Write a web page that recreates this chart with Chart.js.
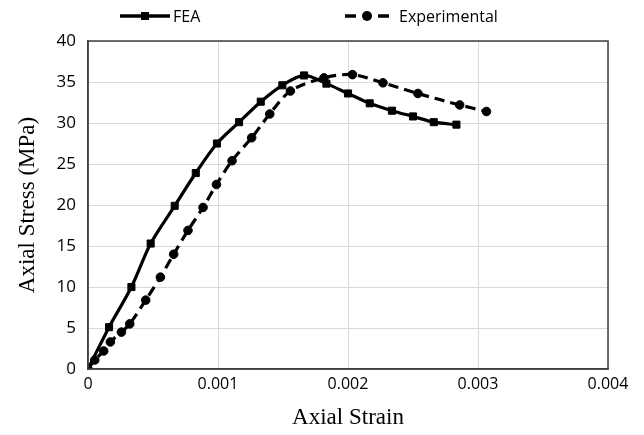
<!DOCTYPE html>
<html>
<head>
<meta charset="utf-8">
<script src="https://cdn.jsdelivr.net/npm/chart.js@4"></script>
<style>
    html, body { margin: 0; padding: 0; background: #fff; }
    #wrap { width: 644px; height: 435px; }
</style>
</head>
<body>
<div id="wrap"><canvas id="stressChart" width="644" height="435"></canvas></div>
<script>
// values
const feaStrain = [0, 0.000162, 0.000334, 0.000482, 0.000667, 0.000829, 0.000992, 0.001162, 0.001329, 0.001495, 0.001662, 0.001834, 0.002, 0.002167, 0.002338, 0.0025, 0.00266, 0.002834];
const feaStress = [0, 5.1, 10.0, 15.3, 19.9, 23.9, 27.5, 30.1, 32.6, 34.6, 35.8, 34.8, 33.6, 32.4, 31.5, 30.8, 30.1, 29.8];

const expStrain = [0, 0.000052, 0.000121, 0.000172, 0.000257, 0.000321, 0.000444, 0.000557, 0.000659, 0.000769, 0.000885, 0.000988, 0.001108, 0.001259, 0.001398, 0.001557, 0.001815, 0.002034, 0.002269, 0.002538, 0.002859, 0.003065];
const expStress = [0, 1.1, 2.2, 3.3, 4.5, 5.5, 8.4, 11.2, 14.0, 16.9, 19.7, 22.5, 25.4, 28.2, 31.1, 33.9, 35.5, 35.9, 34.9, 33.6, 32.2, 31.4];

const xTicks = [0, 0.001, 0.002, 0.003, 0.004];
const seriesNames = ['FEA', 'Experimental'];

const toPoints = (xs, ys) => xs.map((x, i) => ({ x: x, y: ys[i] }));

const SANS = '"Open Sans", "Liberation Sans", sans-serif';
const SERIF = '"Liberation Serif", "DejaVu Serif", serif';

// frame around plot + hand drawn legend (line + marker style)
const framePlugin = {
    id: 'frame',
    afterDraw(chart) {
        const { ctx, chartArea: a } = chart;
        ctx.save();
        ctx.strokeStyle = '#404040';
        ctx.lineWidth = 1.5;
        ctx.strokeRect(a.left, a.top, a.right - a.left, a.bottom - a.top);

        const y = 16;
        ctx.strokeStyle = '#000';
        ctx.fillStyle = '#000';
        ctx.lineWidth = 3.5;
        // FEA
        ctx.beginPath();
        ctx.moveTo(120, y);
        ctx.lineTo(170, y);
        ctx.stroke();
        ctx.fillRect(141, y - 4, 8, 8);
        // Experimental
        ctx.beginPath();
        ctx.moveTo(345, y);
        ctx.lineTo(356, y);
        ctx.moveTo(378, y);
        ctx.lineTo(389, y);
        ctx.stroke();
        ctx.beginPath();
        ctx.arc(367, y, 5, 0, Math.PI * 2);
        ctx.fill();

        ctx.font = '16px ' + SANS;
        ctx.textBaseline = 'middle';
        ctx.fillText(seriesNames[0], 173, y + 1);
        ctx.fillText(seriesNames[1], 399, y + 1);
        ctx.restore();
    }
};

const ctx = document.getElementById('stressChart').getContext('2d');
new Chart(ctx, {
    type: 'line',
    data: {
        datasets: [{
            label: seriesNames[0],
            data: toPoints(feaStrain, feaStress),
            borderColor: '#000',
            backgroundColor: '#000',
            borderWidth: 3.2,
            pointStyle: 'rect',
            pointRadius: 5,
            pointBorderWidth: 1,
            tension: 0.3
        }, {
            label: seriesNames[1],
            data: toPoints(expStrain, expStress),
            borderColor: '#000',
            backgroundColor: '#000',
            borderWidth: 3.2,
            borderDash: [10, 6],
            pointStyle: 'circle',
            pointRadius: 4.3,
            pointBorderWidth: 1,
            tension: 0.3
        }]
    },
    options: {
        responsive: false,
        animation: false,
        layout: { padding: { top: 41, right: 36, left: 0, bottom: 0 } },
        scales: {
            x: {
                type: 'linear',
                min: 0,
                max: 0.004,
                afterBuildTicks: (s) => { s.ticks = xTicks.map(v => ({ value: v })); },
                afterFit: (s) => { s.height = 66; },
                ticks: {
                    color: '#000',
                    font: { family: SANS, size: 16 },
                    padding: 6,
                    callback: (v) => v === 0 ? '0' : v.toFixed(3)
                },
                grid: { color: '#d9d9d9', lineWidth: 1, drawTicks: false },
                border: { color: '#404040', width: 1.5 },
                title: {
                    display: true,
                    text: 'Axial Strain',
                    color: '#000',
                    font: { family: SERIF, size: 23 },
                    padding: { top: 0, bottom: 3 }
                }
            },
            y: {
                min: 0,
                max: 40,
                afterFit: (s) => { s.width = 88; },
                ticks: {
                    stepSize: 5,
                    color: '#000',
                    font: { family: SANS, size: 17 },
                    padding: 12
                },
                grid: { color: '#d9d9d9', lineWidth: 1, drawTicks: false },
                border: { color: '#404040', width: 1.5 },
                title: {
                    display: true,
                    text: 'Axial Stress (MPa)',
                    color: '#000',
                    font: { family: SERIF, size: 23 },
                    padding: { top: 14, bottom: 0 }
                }
            }
        },
        plugins: {
            legend: { display: false },
            tooltip: { enabled: false }
        }
    },
    plugins: [framePlugin]
});
</script>
</body>
</html>
